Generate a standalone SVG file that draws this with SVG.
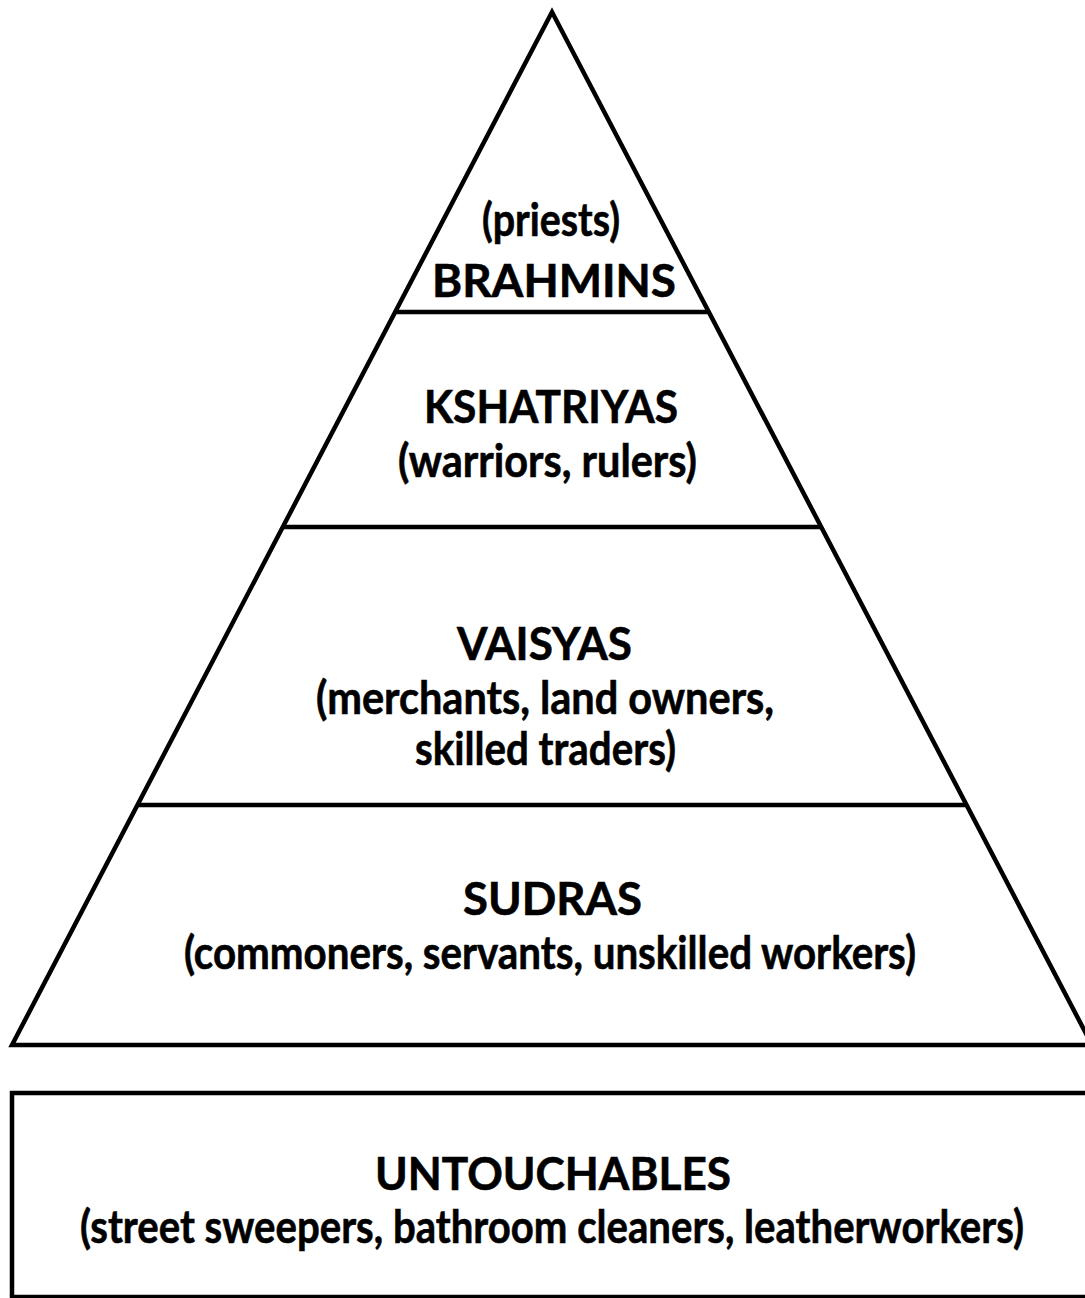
<svg xmlns="http://www.w3.org/2000/svg" width="1085" height="1298" viewBox="0 0 1085 1298">
<style>
.ln{fill:none;stroke:#000;stroke-width:4.5;stroke-linejoin:miter}
.t{font-family:Lato,"Open Sans","Liberation Sans",sans-serif;font-weight:bold;font-size:45px;fill:#000;text-anchor:middle;stroke:#000;stroke-width:0.6}
</style>
<rect x="0" y="0" width="1085" height="1298" fill="#fff"/>
<g id="pyramid">
<path class="ln" d="M12,1045 L552,12 L1092,1045 Z"/>
<line class="ln" x1="395.7" y1="312" x2="708.3" y2="312"/>
<line class="ln" x1="282.8" y1="527" x2="821.2" y2="527"/>
<line class="ln" x1="137.4" y1="805" x2="966.6" y2="805"/>
</g>
<g id="brahmins">
<text class="t" x="551" y="236" textLength="138" lengthAdjust="spacingAndGlyphs">(priests)</text>
<text class="t" x="554" y="297" textLength="244" lengthAdjust="spacingAndGlyphs">BRAHMINS</text>
</g>
<g id="kshatriyas">
<text class="t" x="551" y="423" textLength="254" lengthAdjust="spacingAndGlyphs">KSHATRIYAS</text>
<text class="t" x="547.5" y="477" textLength="299" lengthAdjust="spacingAndGlyphs">(warriors, rulers)</text>
</g>
<g id="vaisyas">
<text class="t" x="544.5" y="660" textLength="175" lengthAdjust="spacingAndGlyphs">VAISYAS</text>
<text class="t" x="545" y="714" textLength="458" lengthAdjust="spacingAndGlyphs">(merchants, land owners,</text>
<text class="t" x="545.5" y="765" textLength="261" lengthAdjust="spacingAndGlyphs">skilled traders)</text>
</g>
<g id="sudras">
<text class="t" x="552.5" y="915" textLength="179" lengthAdjust="spacingAndGlyphs">SUDRAS</text>
<text class="t" x="550" y="969" textLength="732" lengthAdjust="spacingAndGlyphs">(commoners, servants, unskilled workers)</text>
</g>
<g id="untouchables">
<rect class="ln" x="12" y="1093" width="1090" height="204"/>
<text class="t" x="553" y="1190" textLength="356" lengthAdjust="spacingAndGlyphs">UNTOUCHABLES</text>
<text class="t" x="552" y="1243" textLength="944" lengthAdjust="spacingAndGlyphs">(street sweepers, bathroom cleaners, leatherworkers)</text>
</g>
</svg>
